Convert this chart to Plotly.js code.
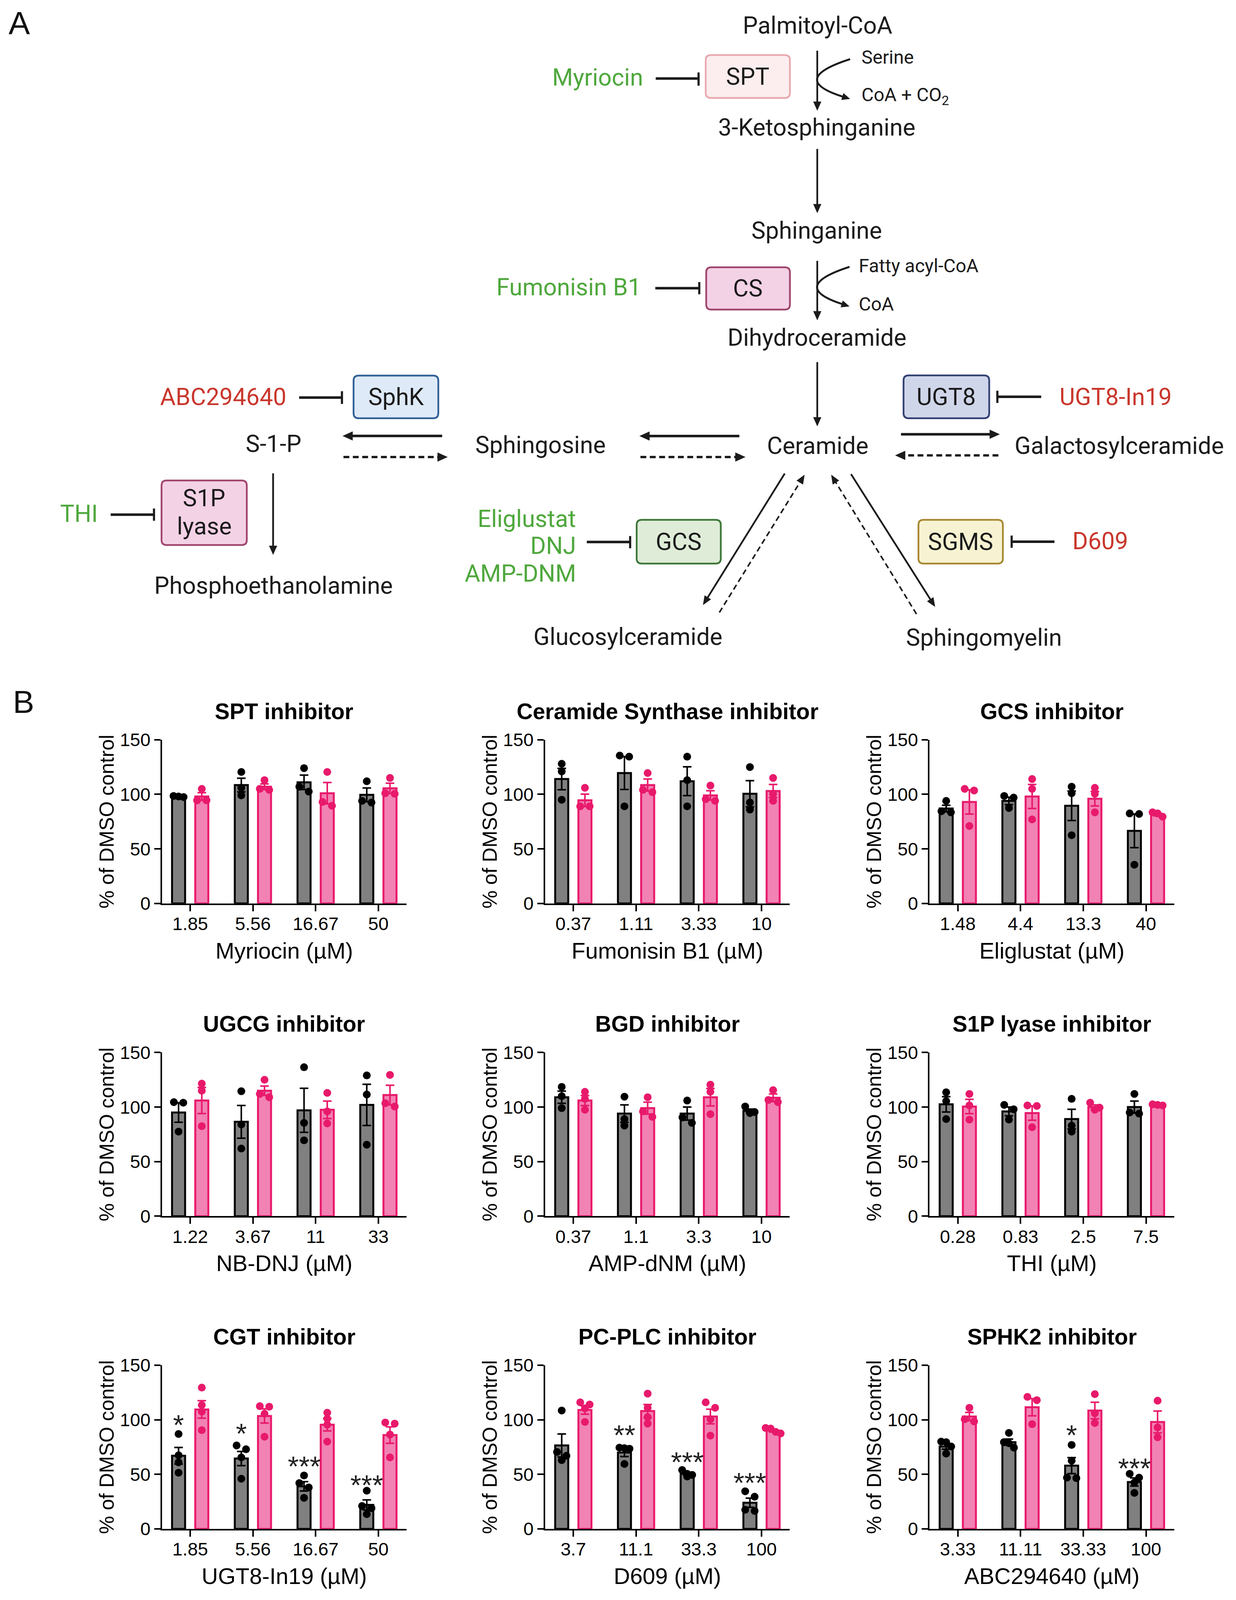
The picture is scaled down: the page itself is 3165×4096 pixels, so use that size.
<!DOCTYPE html>
<html><head><meta charset="utf-8">
<script src="https://cdn.plot.ly/plotly-3.0.1.min.js"></script>
<style>html,body{margin:0;padding:0;background:#fff;}#chart{width:3165px;height:4096px;}</style>
</head><body><div id="chart"></div>
<script>
// ================= DATA (panel B) =================
const sptDoses = ['1.85','5.56','16.67','50'];
const sptGray = [98, 108.5, 111, 99.5];
const sptGraySem = [0.6, 6.3, 6.6, 6.3];
const sptGrayPts = [[97.5,98,98.5],[120.5,106,99],[124,107,102.5],[112,94,92.5]];
const sptPink = [98, 107, 101, 105.5];
const sptPinkSem = [3.5, 2.6, 9.8, 4.7];
const sptPinkPts = [[105,94.5,94.5],[113,105,104],[120.5,93,89.5],[115,101,100.5]];

const csDoses = ['0.37','1.11','3.33','10'];
const csGray = [114, 119.5, 112, 100.5];
const csGraySem = [9.8, 15, 13.2, 12];
const csGrayPts = [[128,121,95],[135.5,134.5,89],[134.5,113,89],[125,92.5,86]];
const csPink = [94.5, 108.5, 99, 103];
const csPinkSem = [5.7, 5.5, 4.3, 6];
const csPinkPts = [[106,89,89],[119.5,104,102],[108,95.5,94],[115,100.5,94]];

const gcsDoses = ['1.48','4.4','13.3','40'];
const gcsGray = [87, 94, 89.5, 66.5];
const gcsGraySem = [3, 3.4, 13.5, 15.4];
const gcsGrayPts = [[94,84.5,83.5],[98.5,97,87.5],[107,101,62.5],[82.5,82,35.5]];
const gcsPink = [93, 98, 96, 81.5];
const gcsPinkSem = [11.1, 11, 6.7, 1.2];
const gcsPinkPts = [[105,103.5,71],[114,105,77],[106,100.5,83.5],[83.5,82.5,79.5]];

const ugcgDoses = ['1.22','3.67','11','33'];
const ugcgGray = [95, 86.5, 97, 102];
const ugcgGraySem = [8.9, 15, 20.2, 18.9];
const ugcgGrayPts = [[104.5,104,77.5],[114.5,84,62],[136.5,85.5,69.5],[129,111.5,65.5]];
const ugcgPink = [106, 115, 97.5, 111];
const ugcgPinkSem = [12, 4.3, 8, 9];
const ugcgPinkPts = [[121.5,115,82.5],[125,112,109],[113,96,85],[129.5,103.5,100.5]];

const bgdDoses = ['0.37','1.1','3.3','10'];
const bgdGray = [109, 94, 94, 96.5];
const bgdGraySem = [5.6, 8, 6, 1.6];
const bgdGrayPts = [[118.5,110,99],[109.5,89,83],[106,90.5,85.5],[100.5,95.5,94.5]];
const bgdPink = [106, 99, 109, 108.5];
const bgdPinkSem = [4.6, 5.5, 8, 3.5];
const bgdPinkPts = [[114,107.5,97.5],[109,96,91],[120.5,114,93.5],[115.5,106.5,104.5]];

const s1pDoses = ['0.28','0.83','2.5','7.5'];
const s1pGray = [102.5, 96, 89, 100];
const s1pGraySem = [7, 4, 9, 5.5];
const s1pGrayPts = [[113.5,105.5,89],[102,98,88.5],[107.5,83,77.5],[112,95,94]];
const s1pPink = [100.5, 94.5, 100, 102];
const s1pPinkSem = [6.6, 6.6, 2, 0.7];
const s1pPinkPts = [[112,101.5,88.5],[101.5,101,81.5],[104,99.5,97.5],[102.5,102,101.5]];

const cgtDoses = ['1.85','5.56','16.67','50'];
const cgtGray = [67, 64.5, 39, 22];
const cgtGraySem = [7.6, 6.5, 4.3, 4.6];
const cgtGrayPts = [[87,67.5,61,51.5],[76.5,73,65.5,46],[49,42,38,28.5],[35,21,19,13.5]];
const cgtPink = [109.5, 103.5, 95.5, 86];
const cgtPinkSem = [8, 6.5, 5.7, 7.5];
const cgtPinkPts = [[129.5,113.5,107.5,90.5],[112.5,112,105.5,84.5],[106.5,101,95.5,80],[97.5,96.5,86.5,65.5]];
const cgtStars = ['*','*','***','***'];
const cgtStarY = [101, 93, 63, 46];

const plcDoses = ['3.7','11.1','33.3','100'];
const plcGray = [76.5, 70, 50.5, 24];
const plcGraySem = [10.5, 3.7, 1.3, 4.2];
const plcGrayPts = [[108.5,70.5,67,63],[74.5,74,73.5,59.5],[54,50.5,49.5,48],[34.5,29.5,17.5,16.5]];
const plcPink = [109, 108, 103, 90];
const plcPinkSem = [3.8, 6, 6.7, 1.2];
const plcPinkPts = [[116,114,110.5,98],[124,111,102.5,96.5],[116,111,100.5,85.5],[92.5,92,89,87.5]];
const plcStars = ['','**','***','***'];
const plcStarY = [null, 91.5, 67, 48];

const sphkDoses = ['3.33','11.11','33.33','100'];
const sphkGray = [75.5, 79.5, 58, 43];
const sphkGraySem = [2.5, 2.8, 7.3, 3.7];
const sphkGrayPts = [[80,79.5,75.5,69],[88,79.5,78.5,74.5],[77,62.5,47,46.5],[50.5,47,42.5,33]];
const sphkPink = [103, 111.5, 108.5, 98];
const sphkPinkSem = [3.8, 7.9, 7.6, 10];
const sphkPinkPts = [[111,100.5,98.5],[121,118,96],[123.5,106,97],[117.5,93,84]];
const sphkStars = ['','','*','***'];
const sphkStarY = [null, null, 91.5, 61.3];

const panelTitles = ['SPT inhibitor','Ceramide Synthase inhibitor','GCS inhibitor',
  'UGCG inhibitor','BGD inhibitor','S1P lyase inhibitor',
  'CGT inhibitor','PC-PLC inhibitor','SPHK2 inhibitor'];
const xTitles = ['Myriocin (µM)','Fumonisin B1 (µM)','Eliglustat (µM)',
  'NB-DNJ (µM)','AMP-dNM (µM)','THI (µM)',
  'UGT8-In19 (µM)','D609 (µM)','ABC294640 (µM)'];
const yTitle = '% of DMSO control';
const yTicks = [0, 50, 100, 150];

// ================= PAGE / STYLE =================
const W = 3165, H = 4096;
const K = W / 1212;             // preview-unit -> page px
const INK = '#1b1b1b';
const GREEN = '#4FA83D', RED = '#C9372C';
const GRAY_FILL = '#808080', PINK_FILL = '#F282B4', PINK = '#E8196B';
const AX_FONT = 'Liberation Sans, Arial, sans-serif';
const REF = {xref: 'x10', yref: 'y10'};

const panels = [
  {doses: sptDoses, g: sptGray, gs: sptGraySem, gp: sptGrayPts, p: sptPink, ps: sptPinkSem, pp: sptPinkPts},
  {doses: csDoses, g: csGray, gs: csGraySem, gp: csGrayPts, p: csPink, ps: csPinkSem, pp: csPinkPts},
  {doses: gcsDoses, g: gcsGray, gs: gcsGraySem, gp: gcsGrayPts, p: gcsPink, ps: gcsPinkSem, pp: gcsPinkPts},
  {doses: ugcgDoses, g: ugcgGray, gs: ugcgGraySem, gp: ugcgGrayPts, p: ugcgPink, ps: ugcgPinkSem, pp: ugcgPinkPts},
  {doses: bgdDoses, g: bgdGray, gs: bgdGraySem, gp: bgdGrayPts, p: bgdPink, ps: bgdPinkSem, pp: bgdPinkPts},
  {doses: s1pDoses, g: s1pGray, gs: s1pGraySem, gp: s1pGrayPts, p: s1pPink, ps: s1pPinkSem, pp: s1pPinkPts},
  {doses: cgtDoses, g: cgtGray, gs: cgtGraySem, gp: cgtGrayPts, p: cgtPink, ps: cgtPinkSem, pp: cgtPinkPts, st: cgtStars, sy: cgtStarY},
  {doses: plcDoses, g: plcGray, gs: plcGraySem, gp: plcGrayPts, p: plcPink, ps: plcPinkSem, pp: plcPinkPts, st: plcStars, sy: plcStarY},
  {doses: sphkDoses, g: sphkGray, gs: sphkGraySem, gp: sphkGrayPts, p: sphkPink, ps: sphkPinkSem, pp: sphkPinkPts, st: sphkStars, sy: sphkStarY}
];

const colX = [414.7, 1395.8, 2380.3];
const rowTop = [1893.8, 2694.4, 3495];
const PW = 626.5, PH = 419;
const OFF = 0.185, BW = 0.208, THR = 5.5;

const shapes = [], annotations = [], traces = [];
const layout = {
  width: W, height: H, margin: {l: 0, r: 0, t: 0, b: 0},
  paper_bgcolor: '#ffffff', plot_bgcolor: 'rgba(0,0,0,0)',
  showlegend: false, barmode: 'overlay'
};

// horizontal spread of replicate dots that share nearly the same height
function spread(vals) {
  const idx = vals.map((v, i) => i).sort((a, b) => vals[b] - vals[a]);
  const off = new Array(vals.length).fill(0);
  let i = 0;
  while (i < idx.length) {
    let j = i + 1;
    while (j < idx.length && vals[idx[i]] - vals[idx[j]] < THR) j++;
    const n = j - i;
    for (let k = i; k < j; k++) {
      off[idx[k]] = n === 2 ? (k - i - 0.5) * 0.15 : (k - i - (n - 1) / 2) * 0.08;
    }
    i = j;
  }
  return off;
}

panels.forEach((pn, n) => {
  const xa = n === 0 ? 'x' : 'x' + (n + 1);
  const ya = n === 0 ? 'y' : 'y' + (n + 1);
  const col = n % 3, row = Math.floor(n / 3);
  const x0 = colX[col], top = rowTop[row];
  const cats = pn.doses.map((d, i) => i);

  traces.push({type: 'bar', x: cats.map(i => i - OFF), y: pn.g, width: BW, xaxis: xa, yaxis: ya,
    marker: {color: GRAY_FILL, line: {color: '#000', width: 5}},
    error_y: {type: 'data', array: pn.gs, visible: true, color: '#000', thickness: 4, width: 11},
    hoverinfo: 'skip'});
  traces.push({type: 'bar', x: cats.map(i => i + OFF), y: pn.p, width: BW, xaxis: xa, yaxis: ya,
    marker: {color: PINK_FILL, line: {color: PINK, width: 5}},
    error_y: {type: 'data', array: pn.ps, visible: true, color: PINK, thickness: 4, width: 11},
    hoverinfo: 'skip'});

  const gx = [], gy = [], px = [], py = [];
  pn.gp.forEach((vals, i) => { const o = spread(vals); vals.forEach((v, k) => { gx.push(i - OFF + o[k]); gy.push(v); }); });
  pn.pp.forEach((vals, i) => { const o = spread(vals); vals.forEach((v, k) => { px.push(i + OFF + o[k]); py.push(v); }); });
  traces.push({type: 'scatter', mode: 'markers', x: gx, y: gy, xaxis: xa, yaxis: ya,
    marker: {color: '#000', size: 20}, hoverinfo: 'skip', cliponaxis: false});
  traces.push({type: 'scatter', mode: 'markers', x: px, y: py, xaxis: xa, yaxis: ya,
    marker: {color: PINK, size: 20}, hoverinfo: 'skip', cliponaxis: false});

  const axKey = n === 0 ? '' : String(n + 1);
  layout['xaxis' + axKey] = {
    domain: [x0 / W, (x0 + PW) / W], anchor: ya, range: [-0.45, 3.45],
    tickmode: 'array', tickvals: cats, ticktext: pn.doses,
    ticks: 'outside', ticklen: 16, tickwidth: 4, tickcolor: '#000',
    showline: true, linewidth: 4, linecolor: '#000', showgrid: false, zeroline: false,
    tickfont: {family: AX_FONT, size: 47, color: '#000'}, ticklabelstandoff: -8,
    title: {text: xTitles[n], font: {family: AX_FONT, size: 58, color: '#000'}, standoff: 24},
    fixedrange: true
  };
  layout['yaxis' + axKey] = {
    domain: [1 - (top + PH) / H, 1 - top / H], anchor: xa, range: [0, 150],
    tickmode: 'array', tickvals: yTicks,
    ticks: 'outside', ticklen: 16, tickwidth: 4, tickcolor: '#000',
    showline: true, linewidth: 4, linecolor: '#000', showgrid: false, zeroline: false,
    tickfont: {family: AX_FONT, size: 47, color: '#000'},
    title: {text: yTitle, font: {family: AX_FONT, size: 52, color: '#000'}, standoff: 0},
    fixedrange: true
  };

  annotations.push({...REF, x: x0 + PW / 2, y: top - 73, text: '<b>' + panelTitles[n] + '</b>',
    showarrow: false, xanchor: 'center', yanchor: 'middle',
    font: {family: AX_FONT, size: 57, color: '#000'}});

  if (pn.st) {
    pn.st.forEach((s, i) => {
      if (!s) return;
      annotations.push({xref: xa, yref: ya, x: i - OFF, y: pn.sy[i], text: s, showarrow: false,
        xanchor: 'center', yanchor: 'middle', yshift: -16,
        font: {family: AX_FONT, size: 72, color: '#222'}});
    });
  }
});

// ================= PANEL A (pathway diagram) =================
function P(v) { return v * K; }
function label(t, x, y, o = {}) {
  annotations.push({...REF, x: P(x), y: P(y), text: t, showarrow: false,
    xanchor: o.anchor || 'center', yanchor: 'middle',
    font: {family: o.family || 'Roboto, Liberation Sans, sans-serif', size: o.size || 61, color: o.color || INK}});
}
function box(x0, y0, x1, y1, fill, stroke) {
  const X0 = P(x0), Y0 = P(y0), X1 = P(x1), Y1 = P(y1), r = 13;
  const path = `M ${X0 + r},${Y0} L ${X1 - r},${Y0} Q ${X1},${Y0} ${X1},${Y0 + r} L ${X1},${Y1 - r} Q ${X1},${Y1} ${X1 - r},${Y1} ` +
    `L ${X0 + r},${Y1} Q ${X0},${Y1} ${X0},${Y1 - r} L ${X0},${Y0 + r} Q ${X0},${Y0} ${X0 + r},${Y0} Z`;
  shapes.push({type: 'path', ...REF, path, fillcolor: fill, line: {color: stroke, width: 4.5}, layer: 'above'});
}
function seg(x0, y0, x1, y1, w, dash) {
  shapes.push({type: 'line', ...REF, x0: x0, y0: y0, x1: x1, y1: y1,
    line: {color: INK, width: w, dash: dash || 'solid'}, layer: 'above'});
}
function head(X, Y, ux, uy, hl, hw) {
  const bx = X - ux * hl, by = Y - uy * hl;
  const path = `M ${X},${Y} L ${bx - uy * hw / 2},${by + ux * hw / 2} L ${bx + uy * hw / 2},${by - ux * hw / 2} Z`;
  shapes.push({type: 'path', ...REF, path, fillcolor: INK, line: {width: 0}, layer: 'above'});
}
function arrow(x0, y0, x1, y1, w, o = {}) {
  const X0 = P(x0), Y0 = P(y0), X1 = P(x1), Y1 = P(y1);
  const dx = X1 - X0, dy = Y1 - Y0, L = Math.hypot(dx, dy), ux = dx / L, uy = dy / L;
  const hl = (o.hl || 9) * K, hw = (o.hw || 8) * K;
  seg(X0, Y0, X1 - ux * (hl - 2), Y1 - uy * (hl - 2), w, o.dash);
  head(X1, Y1, ux, uy, hl, hw);
}
function curve(x0, y0, cx, cy, x1, y1, w) {
  const X0 = P(x0), Y0 = P(y0), CX = P(cx), CY = P(cy), X1 = P(x1), Y1 = P(y1);
  const dx = X1 - CX, dy = Y1 - CY, L = Math.hypot(dx, dy), ux = dx / L, uy = dy / L;
  const hl = 8 * K, hw = 7 * K;
  const ex = X1 - ux * (hl - 2), ey = Y1 - uy * (hl - 2);
  shapes.push({type: 'path', ...REF, path: `M ${X0},${Y0} Q ${CX},${CY} ${ex},${ey}`,
    line: {color: INK, width: w}, layer: 'above'});
  head(X1, Y1, ux, uy, hl, hw);
}
function inhib(xa, xb, y, barX, y0, y1) {
  seg(P(xa), P(y), P(xb), P(y), 6.5);
  seg(P(barX), P(y0), P(barX), P(y1), 5.5);
}

// panel letters
annotations.push({...REF, x: P(19), y: P(22.5), text: 'A', showarrow: false, xanchor: 'center', yanchor: 'middle',
  font: {family: AX_FONT, size: 82, color: '#111'}});
annotations.push({...REF, x: P(23), y: P(688), text: 'B', showarrow: false, xanchor: 'center', yanchor: 'middle',
  font: {family: AX_FONT, size: 82, color: '#111'}});

// enzyme boxes
box(692, 54, 774.6, 96, '#FCEEEE', '#E8AAAF');          // SPT
box(692.5, 262, 774.6, 303.5, '#F4D2E6', '#A0466E');    // CS
box(346.7, 368.2, 429.8, 410, '#DEEAF8', '#306096');    // SphK
box(886, 368, 970, 410, '#D0D6EA', '#324073');          // UGT8
box(158.4, 471, 242, 534.3, '#F4D2E6', '#A0466E');      // S1P lyase
box(624.3, 509.6, 706.8, 552.5, '#DEECD8', '#3E783A');  // GCS
box(900.6, 509.6, 983.4, 552.5, '#F7F3D2', '#A88832');  // SGMS

// metabolites
label('Palmitoyl-CoA', 801.5, 25);
label('3-Ketosphinganine', 801, 125);
label('Sphinganine', 801, 226);
label('Dihydroceramide', 801, 331);
label('Ceramide', 802, 437);
label('Sphingosine', 530, 436);
label('S-1-P', 268.4, 435);
label('Phosphoethanolamine', 268.4, 574);
label('Galactosylceramide', 1097.5, 437);
label('Glucosylceramide', 615.6, 624);
label('Sphingomyelin', 964.7, 625);
// co-substrates
label('Serine', 844, 56, {anchor: 'left', size: 48});
label('CoA + CO<sub>2</sub>', 844, 94, {anchor: 'left', size: 48});
label('Fatty acyl-CoA', 841.5, 260.5, {anchor: 'left', size: 48});
label('CoA', 841.5, 298, {anchor: 'left', size: 48});
// enzymes
label('SPT', 733.3, 75.2);
label('CS', 733.5, 282.5);
label('SphK', 388.3, 389);
label('UGT8', 928, 389);
label('S1P', 200.2, 488.3);
label('lyase', 200.2, 516);
label('GCS', 665.5, 531);
label('SGMS', 942, 531);
// inhibitors
label('Myriocin', 631.5, 76, {anchor: 'right', color: GREEN});
label('Fumonisin B1', 629.7, 281.5, {anchor: 'right', color: GREEN});
label('ABC294640', 281.6, 389, {anchor: 'right', color: RED});
label('UGT8-In19', 1038, 389, {anchor: 'left', color: RED});
label('THI', 96.8, 503.5, {anchor: 'right', color: GREEN});
label('Eliglustat', 565.7, 508.4, {anchor: 'right', color: GREEN});
label('DNJ', 565.7, 535, {anchor: 'right', color: GREEN});
label('AMP-DNM', 565.7, 562, {anchor: 'right', color: GREEN});
label('D609', 1050.6, 530.5, {anchor: 'left', color: RED});

// inhibition bars
inhib(643, 685, 77, 685, 71, 84);
inhib(642.6, 685.7, 282.5, 685.7, 276.5, 288.5);
inhib(293.3, 335.3, 389.7, 335.3, 383.5, 396);
inhib(978, 1021, 389, 978, 383, 395);
inhib(108.5, 151, 504.5, 151, 498.5, 510.5);
inhib(575.4, 617.9, 531.3, 617.9, 525.5, 537.5);
inhib(992, 1034, 531, 992, 525, 537);

// main vertical arrows
arrow(801.4, 49.7, 801.4, 108.6, 4.5);
arrow(801.4, 146, 801.4, 209, 4.5);
arrow(801.4, 255.7, 801.4, 314, 4.5);
arrow(801.4, 355, 801.4, 418, 4.5);
arrow(267.8, 464, 267.8, 544, 4.5);
// side reactions
curve(833.6, 58, 772.4, 77.7, 833.6, 97, 5);
curve(833, 261.6, 773, 281, 833, 300.4, 5);
// horizontal arrows
arrow(725, 427.5, 627, 427.5, 6.5, {hl: 10, hw: 9});
arrow(628, 448, 731, 448, 6, {hl: 10, hw: 9, dash: '15px,9px'});
arrow(433.6, 427.4, 335.9, 427.4, 6.5, {hl: 10, hw: 9});
arrow(336.8, 448, 439, 448, 6, {hl: 10, hw: 9, dash: '15px,9px'});
arrow(883.5, 425.7, 980.4, 425.7, 6.5, {hl: 10, hw: 9});
arrow(979, 446.4, 877.7, 446.4, 6, {hl: 10, hw: 9, dash: '15px,9px'});
// diagonal arrows
arrow(769.5, 464.2, 689.3, 593.2, 4.5, {hl: 9, hw: 7.5});
arrow(705.4, 600.4, 789, 465.4, 4, {hl: 9, hw: 7.5, dash: '14px,9px'});
arrow(834.5, 464.8, 917, 595, 4.5, {hl: 9, hw: 7.5});
arrow(898.7, 602, 815, 465.4, 4, {hl: 9, hw: 7.5, dash: '14px,9px'});

// overlay axis in page pixels for the diagram and titles
layout.xaxis10 = {domain: [0, 1], range: [0, W], visible: false, fixedrange: true, anchor: 'y10'};
layout.yaxis10 = {domain: [0, 1], range: [H, 0], visible: false, fixedrange: true, anchor: 'x10'};
traces.push({type: 'scatter', x: [], y: [], xaxis: 'x10', yaxis: 'y10', hoverinfo: 'skip', showlegend: false});

layout.shapes = shapes;
layout.annotations = annotations;

Plotly.newPlot('chart', traces, layout, {staticPlot: true, displayModeBar: false});
</script></body></html>
